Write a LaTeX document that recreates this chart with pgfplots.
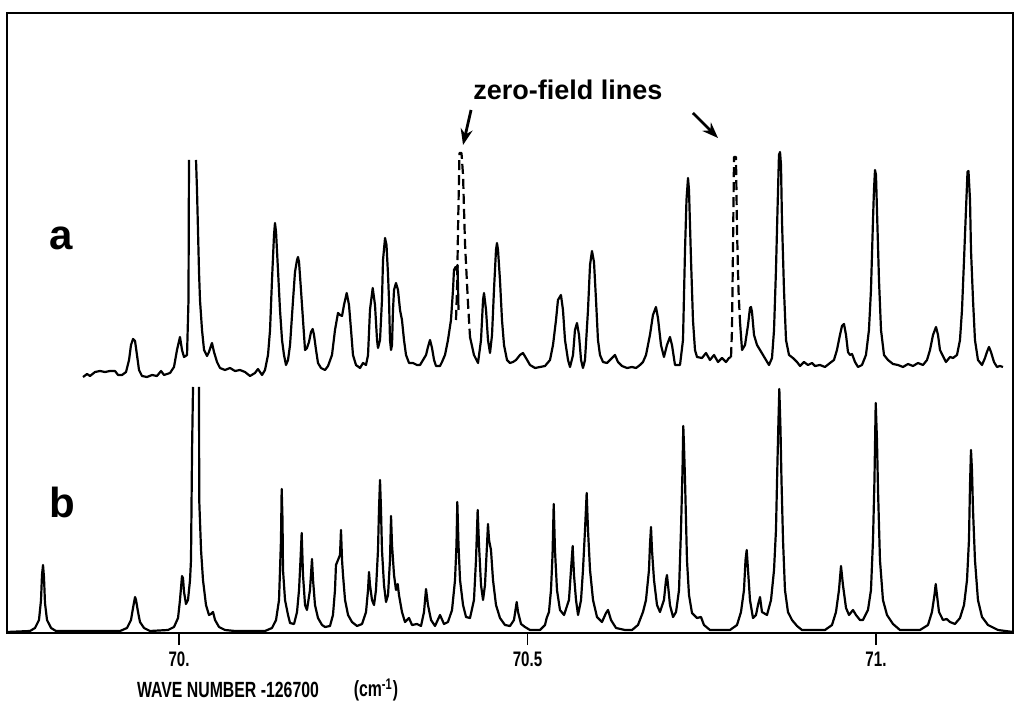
\documentclass[border=0pt]{standalone}
\usepackage{pgfplots}
\pgfplotsset{compat=1.18}
\usepackage{fontspec}
\setmainfont{Liberation Sans}
\newfontfamily\cond[FakeStretch=0.72]{Liberation Sans}
\usetikzlibrary{arrows.meta}
\begin{document}
\begin{tikzpicture}
\begin{axis}[
  scale only axis, width=503pt, height=310pt,
  xmin=69.7532, xmax=71.1966, ymin=0, ymax=620,
  axis line style={line width=1pt},
  xtick={70,70.5,71}, xticklabels={70.,70.5,71.},
  xtick pos=bottom, tick align=outside, major tick length=6pt,
  xtick style={line width=0.9pt,black},
  xticklabel style={font=\cond\bfseries\fontsize{10.5}{10.5}\selectfont},
  ytick=\empty,
  clip=false,
  unbounded coords=jump,
  cycle list={{black,solid}},
  every axis plot post/.append style={line width=1.1pt, line join=round},
  no markers,
]
% spectrum b (calculated)
\addplot coordinates {
(69.7532,1) (69.7862,2) (69.7934,5) (69.7991,13) (69.8020,33) (69.8034,58) (69.8049,68) (69.8063,55) (69.8077,30) (69.8106,13) (69.8164,5) (69.8235,2)
(69.9154,2) (69.9254,5) (69.9311,13) (69.9340,25) (69.9369,36) (69.9383,33) (69.9412,21) (69.9440,11) (69.9498,5) (69.9584,2)
(69.9842,3) (69.9928,6) (69.9986,15) (70.0014,33) (70.0043,57) (70.0057,55) (70.0072,41) (70.0100,29) (70.0129,33) (70.0158,53) (70.0172,73) (70.0187,183) (70.0201,246)
(70.0244,nan)
(70.0287,246) (70.0290,133) (70.0316,83) (70.0344,53) (70.0387,28) (70.0430,18) (70.0459,19) (70.0488,21) (70.0517,13) (70.0574,6) (70.0660,3) (70.0803,2)
(70.1234,2) (70.1334,5) (70.1392,13) (70.1435,33) (70.1449,63) (70.1463,93) (70.1473,144) (70.1485,113) (70.1492,63) (70.1521,33) (70.1564,18) (70.1593,10)
(70.1650,9) (70.1693,21) (70.1722,43) (70.1743,73) (70.1760,100) (70.1779,58) (70.1808,28) (70.1836,23) (70.1879,43) (70.1908,74) (70.1923,53) (70.1951,28) (70.1994,15)
(70.2052,8) (70.2095,6) (70.2166,7) (70.2209,18) (70.2238,43) (70.2252,68) (70.2281,73) (70.2310,78) (70.2324,103) (70.2339,73) (70.2353,58) (70.2382,33) (70.2425,18) (70.2482,11)
(70.2554,7) (70.2626,9) (70.2683,21) (70.2712,43) (70.2726,61) (70.2740,48) (70.2769,33) (70.2798,28) (70.2826,43) (70.2855,83) (70.2869,123) (70.2884,153) (70.2898,123) (70.2912,83)
(70.2941,48) (70.2970,31) (70.2999,38) (70.3027,73) (70.3042,117) (70.3056,88) (70.3085,58) (70.3113,43) (70.3138,49) (70.3156,38) (70.3199,21) (70.3242,11) (70.3300,15) (70.3343,8)
(70.3415,9) (70.3472,7) (70.3515,21) (70.3544,44) (70.3572,28) (70.3616,13) (70.3673,7) (70.3745,18) (70.3802,9) (70.3859,11) (70.3917,23) (70.3960,53) (70.3981,88) (70.3993,131)
(70.4010,88) (70.4032,53) (70.4075,28) (70.4118,16) (70.4175,15) (70.4232,33) (70.4261,73) (70.4285,123) (70.4304,88) (70.4333,48) (70.4362,33) (70.4390,48) (70.4419,88) (70.4433,109)
(70.4448,93) (70.4476,83) (70.4505,53) (70.4548,28) (70.4605,15) (70.4677,8) (70.4749,7) (70.4806,13) (70.4845,31) (70.4864,21) (70.4907,9) (70.4964,6) (70.5036,3) (70.5179,3)
(70.5251,8) (70.5275,15) (70.5308,21) (70.5337,43) (70.5359,78) (70.5376,129) (70.5394,83) (70.5423,43) (70.5466,23) (70.5524,18) (70.5595,33) (70.5624,63) (70.5648,87) (70.5667,58)
(70.5696,33) (70.5725,18) (70.5768,33) (70.5796,63) (70.5825,103) (70.5849,140) (70.5868,103) (70.5897,63) (70.5940,33) (70.5997,16) (70.6069,11) (70.6126,20) (70.6155,23) (70.6198,13)
(70.6270,5) (70.6399,3) (70.6499,3) (70.6585,8) (70.6657,21) (70.6700,33) (70.6743,63) (70.6757,88) (70.6772,106) (70.6786,83) (70.6815,53) (70.6858,28) (70.6901,21) (70.6958,33)
(70.6987,53) (70.7001,58) (70.7016,48) (70.7044,28) (70.7088,16) (70.7131,21) (70.7174,43) (70.7202,103) (70.7224,163) (70.7235,207) (70.7245,188) (70.7260,153) (70.7288,73) (70.7317,38)
(70.7360,20) (70.7432,15) (70.7489,16) (70.7532,8) (70.7618,3) (70.7905,3) (70.8006,8) (70.8063,21) (70.8106,43) (70.8128,73) (70.8145,83) (70.8164,63) (70.8192,33) (70.8235,15)
(70.8278,18) (70.8307,28) (70.8336,36) (70.8364,21) (70.8436,18) (70.8494,33) (70.8537,63) (70.8565,103) (70.8587,173) (70.8601,213) (70.8613,244) (70.8630,203) (70.8644,153) (70.8666,93)
(70.8694,43) (70.8737,21) (70.8795,13) (70.8867,7) (70.8938,3) (70.9268,3) (70.9369,8) (70.9426,21) (70.9469,43) (70.9498,67) (70.9526,48) (70.9570,25) (70.9613,18) (70.9670,23)
(70.9713,18) (70.9770,13) (70.9813,13) (70.9885,23) (70.9928,43) (70.9957,93) (70.9978,153) (70.9996,230) (71.0014,193) (71.0029,143) (71.0057,73) (71.0100,33) (71.0158,18) (71.0244,9)
(71.0344,3) (71.0631,3) (71.0746,8) (71.0803,21) (71.0839,38) (71.0857,49) (71.0875,38) (71.0904,21) (71.0961,13) (71.1014,14) (71.1062,11) (71.1133,9) (71.1205,15) (71.1263,28)
(71.1306,53) (71.1334,93) (71.1349,148) (71.1363,183) (71.1377,163) (71.1392,123) (71.1420,73) (71.1463,33) (71.1521,16) (71.1607,8) (71.1750,3) (71.1966,1)
};
% spectrum a (observed)
\addplot coordinates {
(69.8623,256) (69.8680,259) (69.8723,257) (69.8795,261) (69.8867,262) (69.8938,261) (69.9010,262) (69.9082,262) (69.9125,258) (69.9182,258) (69.9240,261) (69.9283,273)
(69.9311,288) (69.9340,294) (69.9369,292) (69.9397,278) (69.9426,263) (69.9469,257) (69.9541,256) (69.9613,258) (69.9684,257) (69.9742,262) (69.9785,258) (69.9871,260)
(69.9928,266) (69.9971,283) (70.0014,296) (70.0043,283) (70.0072,276) (70.0115,278) (70.0136,333) (70.0143,473)
(70.0190,nan)
(70.0244,473) (70.0258,443) (70.0287,361) (70.0301,333) (70.0330,303) (70.0359,283) (70.0402,277) (70.0430,281) (70.0473,290) (70.0502,281) (70.0545,271) (70.0588,265)
(70.0660,263) (70.0732,265) (70.0803,262) (70.0875,263) (70.0947,261) (70.1019,257) (70.1090,260) (70.1133,264) (70.1191,258) (70.1234,263) (70.1277,278) (70.1306,303)
(70.1334,353) (70.1363,398) (70.1377,410) (70.1392,401) (70.1420,363) (70.1449,323) (70.1478,293) (70.1506,278) (70.1535,268) (70.1564,273) (70.1593,288) (70.1636,333)
(70.1664,361) (70.1693,373) (70.1707,376) (70.1722,371) (70.1750,343) (70.1779,313) (70.1808,283) (70.1836,285) (70.1865,291) (70.1894,301) (70.1918,304) (70.1937,298)
(70.1966,283) (70.1994,270) (70.2037,265) (70.2095,263) (70.2138,267) (70.2195,278) (70.2238,303) (70.2281,320) (70.2310,318) (70.2339,317) (70.2367,328) (70.2406,340)
(70.2439,328) (70.2468,303) (70.2496,278) (70.2539,268) (70.2597,265) (70.2640,270) (70.2683,268) (70.2712,278) (70.2740,323) (70.2779,345) (70.2812,328) (70.2841,293)
(70.2855,285) (70.2884,293) (70.2912,333) (70.2927,373) (70.2956,395) (70.2977,388) (70.2999,358) (70.3013,333) (70.3027,293) (70.3042,283) (70.3056,288) (70.3070,323)
(70.3085,343) (70.3113,350) (70.3142,343) (70.3171,323) (70.3199,313) (70.3228,293) (70.3257,278) (70.3300,270) (70.3357,270) (70.3415,268) (70.3458,268) (70.3501,273)
(70.3544,278) (70.3572,286) (70.3601,293) (70.3630,285) (70.3659,273) (70.3687,267) (70.3745,267) (70.3773,271) (70.3816,278) (70.3859,293) (70.3902,313) (70.3931,343)
(70.3945,363) (70.3967,366) (70.3981,363) (70.3996,368) (70.4010,323)
(70.4050,nan)
(70.4175,296) (70.4232,278) (70.4290,270) (70.4333,293) (70.4362,333) (70.4376,340) (70.4405,323) (70.4433,293) (70.4462,280) (70.4491,298) (70.4519,343) (70.4548,383)
(70.4562,390) (70.4577,383) (70.4605,353) (70.4634,313) (70.4663,288) (70.4706,273) (70.4749,270) (70.4792,271) (70.4835,273) (70.4892,278) (70.4935,280) (70.4978,275)
(70.5036,268) (70.5108,265) (70.5179,266) (70.5251,267) (70.5323,273) (70.5366,288) (70.5409,313) (70.5437,333) (70.5480,338) (70.5509,323) (70.5538,293) (70.5581,273)
(70.5610,266) (70.5653,278) (70.5681,303) (70.5710,310) (70.5739,298) (70.5768,273) (70.5796,265) (70.5825,273) (70.5868,323) (70.5897,368) (70.5925,382) (70.5954,371)
(70.5983,333) (70.6011,293) (70.6040,278) (70.6083,271) (70.6141,270) (70.6184,273) (70.6227,276) (70.6255,278) (70.6298,271) (70.6356,267) (70.6427,265) (70.6499,266)
(70.6557,265) (70.6614,268) (70.6657,271) (70.6700,278) (70.6757,298) (70.6800,318) (70.6843,326) (70.6872,315) (70.6915,288) (70.6958,276) (70.7001,288) (70.7044,296)
(70.7073,288) (70.7116,268) (70.7188,268) (70.7231,293) (70.7260,383) (70.7281,433) (70.7303,455) (70.7317,443) (70.7346,373) (70.7374,313) (70.7403,283) (70.7432,276)
(70.7504,275) (70.7561,280) (70.7618,273) (70.7676,278) (70.7733,271) (70.7790,275) (70.7848,271) (70.7891,275) (70.7920,276)
(70.7960,nan)
(70.8049,311) (70.8078,283) (70.8121,288) (70.8164,308) (70.8192,325) (70.8207,326) (70.8221,321) (70.8250,298) (70.8293,288) (70.8336,283) (70.8379,278) (70.8422,273)
(70.8465,268) (70.8508,275) (70.8537,303) (70.8565,363) (70.8587,423) (70.8608,478) (70.8623,481) (70.8637,468) (70.8651,413) (70.8680,343) (70.8709,293) (70.8752,278)
(70.8809,275) (70.8867,271) (70.8910,267) (70.8967,271) (70.9024,268) (70.9082,270) (70.9125,267) (70.9197,268) (70.9268,266) (70.9340,270) (70.9397,273) (70.9440,283)
(70.9483,298) (70.9512,307) (70.9541,309) (70.9570,298) (70.9598,281) (70.9627,278) (70.9656,279) (70.9699,271) (70.9742,266) (70.9799,268) (70.9856,278) (70.9899,303)
(70.9928,343) (70.9957,413) (70.9971,443) (70.9986,463) (71.0000,458) (71.0014,423) (71.0043,353) (71.0072,303) (71.0115,278) (71.0172,273) (71.0244,269) (71.0316,268)
(71.0387,266) (71.0459,269) (71.0531,267) (71.0603,270) (71.0674,268) (71.0732,273) (71.0775,283) (71.0818,298) (71.0861,306) (71.0890,298) (71.0918,283) (71.0961,277)
(71.1004,271) (71.1062,276) (71.1105,275) (71.1162,278) (71.1205,293) (71.1234,323) (71.1263,373) (71.1291,423) (71.1313,461) (71.1327,462) (71.1349,433) (71.1363,383)
(71.1392,333) (71.1420,293) (71.1463,273) (71.1521,268) (71.1564,275) (71.1592,281) (71.1621,286) (71.1650,281) (71.1693,271) (71.1736,266) (71.1779,267) (71.1822,266)
};
% zero-field lines (dashed)
\addplot[black, dash pattern=on 5pt off 2.5pt] coordinates {
(70.3974,313) (70.3989,343) (70.4003,403) (70.4024,480) (70.4053,480) (70.4075,458) (70.4103,390) (70.4146,330) (70.4175,296)
};
\addplot[black, dash pattern=on 5pt off 2.5pt] coordinates {
(70.7920,276) (70.7934,303) (70.7948,383) (70.7963,476) (70.7991,476) (70.8006,403) (70.8027,343) (70.8049,311)
};
% annotations
\node[font=\bfseries\fontsize{13.5}{14}\selectfont] at (axis cs:70.5581,543) {zero-field lines};
\draw[line width=1.4pt,-{Stealth[length=8pt,width=6pt]}] (axis cs:70.4190,523) -- (axis cs:70.4075,488);
\draw[line width=1.4pt,-{Stealth[length=8pt,width=6pt]}] (axis cs:70.7374,520) -- (axis cs:70.7733,495);
\node[font=\bfseries\fontsize{21}{21}\selectfont] at (axis cs:69.8314,395) {a};
\node[font=\bfseries\fontsize{21}{21}\selectfont] at (axis cs:69.8321,131) {b};
\node[font=\cond\bfseries\fontsize{11}{11}\selectfont] at (axis cs:70.0703,-57) {WAVE NUMBER -126700};
\node[font=\cond\bfseries\fontsize{11}{11}\selectfont] at (axis cs:70.2826,-57) {(cm\textsuperscript{-1})};
\end{axis}
\pgfresetboundingbox
\path ([xshift=-3.5pt,yshift=-36pt]current axis.south west) rectangle ([xshift=0.5pt,yshift=6.5pt]current axis.north east);
\end{tikzpicture}
\end{document}
